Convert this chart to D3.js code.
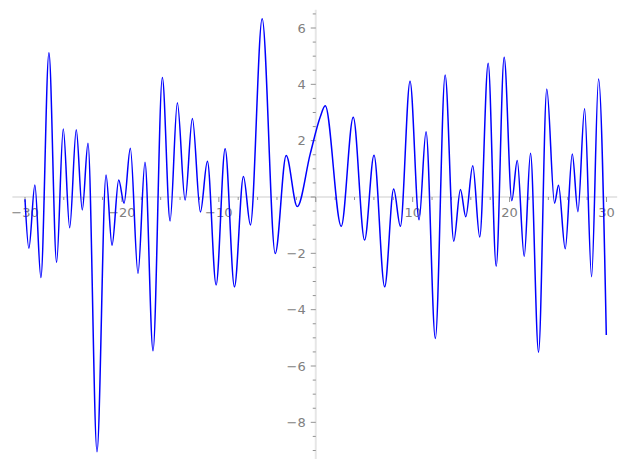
<!DOCTYPE html>
<html>
<head>
<meta charset="utf-8">
<script src="https://cdn.jsdelivr.net/npm/d3@7"></script>
<style>
  body { margin: 0; background: #fff; }
  svg text { font-family: "DejaVu Sans", sans-serif; font-size: 13px; fill: #808080; }
</style>
</head>
<body>
<svg id="chart_svg" width="627" height="470"></svg>
<script>
// Curve points (mostly the turning points)
var xValues = [-30, -29.6, -28.98, -28.36, -27.53, -26.74, -26.05, -25.39, -24.71, -24.09,
    -23.5, -22.57, -21.64, -21.02, -20.33, -19.78, -19.13, -18.34, -17.62, -16.79,
    -15.83, -15.03, -14.28, -13.48, -12.73, -11.9, -11.18, -10.28, -9.35, -8.39,
    -7.46, -6.74, -5.53, -4.18, -3.05, -1.91, -0.57, 0.46, 0.98, 2.63,
    3.87, 5.04, 6.01, 7.11, 8.04, 8.73, 9.73, 10.66, 11.38, 12.34,
    13.35, 14.24, 14.93, 15.48, 16.2, 16.92, 17.79, 18.62, 19.44, 20.23,
    20.79, 21.51, 22.16, 22.99, 23.84, 24.64, 25.05, 25.74, 26.47, 27.05,
    27.74, 28.46, 29.18, 29.98];
var yValues = [-0.08, -1.82, 0.43, -2.86, 5.12, -2.32, 2.41, -1.09, 2.39, -0.46,
    1.91, -9.04, 0.78, -1.71, 0.6, -0.22, 1.73, -2.71, 1.23, -5.46,
    4.24, -0.85, 3.35, -0.11, 2.79, -0.53, 1.27, -3.12, 1.71, -3.19,
    0.73, -0.99, 6.33, -2.01, 1.47, -0.34, 1.53, 2.84, 3.24, -1.04,
    2.83, -1.53, 1.48, -3.19, 0.28, -1.04, 4.11, -0.81, 2.32, -5.02,
    4.33, -1.57, 0.27, -0.7, 1.11, -1.42, 4.75, -2.46, 4.96, -0.13,
    1.3, -2.11, 1.55, -5.51, 3.83, -0.22, 0.42, -1.84, 1.53, -0.52,
    3.13, -2.83, 4.19, -4.9];

// tick labels
var xTickLabels = [-30, -20, -10, 10, 20, 30];
var yTickLabels = [-8, -6, -4, -2, 2, 4, 6];

var plot_svg = d3.select("#chart_svg");

// Scales
var xScale = d3.scaleLinear().domain([-30, 30]).range([25, 606.5]);
var yScale = d3.scaleLinear().domain([0, 6]).range([197, 28]);

var axisColor = "#e6e6e6";
var tickColor = "#777777";

// x axis line (at y = 0)
plot_svg.append("line")
    .attr("x1", xScale(-31.3))
    .attr("x2", xScale(31.1))
    .attr("y1", yScale(0))
    .attr("y2", yScale(0))
    .style("stroke", axisColor)
    .style("stroke-width", 2);

// y axis line (at x = 0)
plot_svg.append("line")
    .attr("x1", xScale(0))
    .attr("x2", xScale(0))
    .attr("y1", yScale(6.65))
    .attr("y2", yScale(-9.3))
    .style("stroke", axisColor)
    .style("stroke-width", 2);

// x minor ticks every 2
var xMinor = d3.range(-30, 31, 2);
plot_svg.append("g")
    .selectAll("xminor")
    .data(xMinor)
    .enter()
    .append("line")
        .attr("x1", function(d) { return xScale(d); })
        .attr("x2", function(d) { return xScale(d); })
        .attr("y1", yScale(0))
        .attr("y2", function(d) { return yScale(0) + (d % 10 == 0 ? 5 : 3); })
        .style("stroke", tickColor)
        .style("stroke-width", 0.8);

// y minor ticks every 0.5
var yMinor = d3.range(-9, 6.6, 0.5);
plot_svg.append("g")
    .selectAll("yminor")
    .data(yMinor)
    .enter()
    .append("line")
        .attr("x1", xScale(0))
        .attr("x2", function(d) { return xScale(0) - (d % 2 == 0 ? 5 : 3); })
        .attr("y1", function(d) { return yScale(d); })
        .attr("y2", function(d) { return yScale(d); })
        .style("stroke", tickColor)
        .style("stroke-width", 0.8);

// x tick labels
plot_svg.append("g")
    .selectAll("xlabel")
    .data(xTickLabels)
    .enter()
    .append("text")
        .attr("x", function(d) { return xScale(d); })
        .attr("y", yScale(0) + 20)
        .attr("text-anchor", "middle")
        .text(function(d) { return d < 0 ? "\u2212" + Math.abs(d) : d; });

// y tick labels
plot_svg.append("g")
    .selectAll("ylabel")
    .data(yTickLabels)
    .enter()
    .append("text")
        .attr("x", xScale(0) - 10)
        .attr("y", function(d) { return yScale(d) + 4.7; })
        .attr("text-anchor", "end")
        .text(function(d) { return d < 0 ? "\u2212" + Math.abs(d) : d; });

// the curve
var curveData = xValues.map(function(x, i) { return [x, yValues[i]]; });

plot_svg.append("path")
    .datum(curveData)
    .attr("fill", "none")
    .attr("stroke", "#0000ff")
    .attr("stroke-width", 1.5)
    .attr("d", d3.line()
        .curve(d3.curveMonotoneX)
        .x(function(d) { return xScale(d[0]); })
        .y(function(d) { return yScale(d[1]); })
    );
</script>
</body>
</html>
